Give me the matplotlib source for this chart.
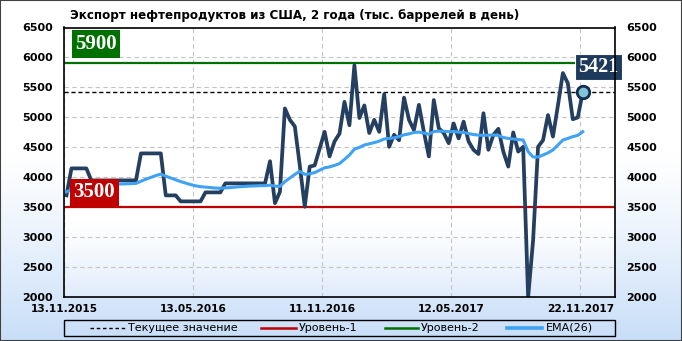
import numpy as np
import matplotlib
matplotlib.use("Agg")
import matplotlib.pyplot as plt
from matplotlib.lines import Line2D
from matplotlib.patches import Rectangle
from matplotlib.transforms import blended_transform_factory

# ---------------- data ----------------
title = "Экспорт нефтепродуктов из США, 2 года (тыс. баррелей в день)"

export_values = [
    3700, 4150, 4150, 4150, 4150, 3950, 3950, 3950, 3950, 3950,
    3950, 3950, 3950, 3950, 3950, 4400, 4400, 4400, 4400, 4400,
    3700, 3700, 3700, 3600, 3600, 3600, 3600, 3600, 3750, 3750,
    3750, 3750, 3900, 3900, 3900, 3900, 3900, 3900, 3900, 3900,
    3900, 4270, 3570, 3760, 5150, 4960, 4850, 4200, 3510, 4180,
    4200, 4480, 4760, 4350, 4600, 4730, 5260, 4870, 5870, 4990,
    5200, 4740, 4960, 4760, 5390, 4510, 4710, 4620, 5330, 4960,
    4790, 5210, 4760, 4350, 5290, 4820, 4740, 4570, 4900, 4650,
    4930, 4600, 4460, 4390, 5070, 4460, 4710, 4810, 4430, 4180,
    4750, 4430, 4510, 2000, 2950, 4510, 4620, 5040, 4680, 5200,
    5740, 5570, 4970, 5000, 5421,
]

ema_values = [
    3760, 3790, 3820, 3845, 3865, 3870, 3875, 3880, 3880, 3885,
    3888, 3890, 3893, 3896, 3900, 3935, 3970, 4000, 4030, 4056,
    4020, 3990, 3960, 3930, 3905, 3880, 3860, 3845, 3838, 3830,
    3822, 3818, 3825, 3830, 3838, 3845, 3850, 3855, 3858, 3862,
    3862, 3870, 3855, 3850, 3930, 3990, 4050, 4100, 4051, 4060,
    4080, 4120, 4160, 4175, 4200, 4230, 4300, 4373, 4470, 4500,
    4540, 4560, 4580, 4605, 4640, 4650, 4660, 4680, 4710, 4725,
    4750, 4755, 4740, 4720, 4765, 4770, 4770, 4762, 4765, 4755,
    4750, 4730, 4715, 4705, 4700, 4705, 4707, 4700, 4665, 4650,
    4640, 4630, 4623, 4430, 4340, 4340, 4373, 4410, 4457, 4540,
    4623, 4650, 4680, 4700, 4762,
]

tick_labels = ["13.11.2015", "13.05.2016", "11.11.2016", "12.05.2017", "22.11.2017"]
tick_index = [0, 26, 52, 78, 104]
level_1 = 3500
level_2 = 5900
current_value = 5421
y_ticks = [2000, 2500, 3000, 3500, 4000, 4500, 5000, 5500, 6000, 6500]
legend_labels = ["Текущее значение", "Уровень-1", "Уровень-2", "EMA(26)"]

# ---------------- style ----------------
W, H = 682, 341
NAVY = "#253f60"
EMA_C = "#3fa2f5"
RED = "#c00000"
GREEN = "#007000"
FONT = "DejaVu Sans"
SERIF = "Liberation Serif"

fig = plt.figure(figsize=(W / 100, H / 100), dpi=100)

def fx(px):
    return px / W

def fy(py):
    return 1 - py / H

def vgrad(nrows, start, power, bottom_rgb):
    t = np.linspace(0, 1, nrows)[:, None]
    f = np.clip((t - start) / (1 - start), 0, 1) ** power
    top = np.array([1.0, 1.0, 1.0])
    bot = np.array(bottom_rgb) / 255
    img = top[None, None, :] * (1 - f[..., None]) + bot[None, None, :] * f[..., None]
    return np.repeat(img, 4, axis=1)

L, R, T, B = 64, 615, 27.5, 297.3

# background: figure gradient + plot-area gradient, drawn in figure coords
bg = fig.add_axes([0, 0, 1, 1], zorder=-10)
bg.axis("off")
bg.imshow(vgrad(341, 0.45, 1.2, (200, 222, 248)), aspect="auto",
          extent=(0, 1, 0, 1), interpolation="bilinear")
bg.imshow(vgrad(270, 0.72, 1.2, (224, 236, 251)), aspect="auto",
          extent=(fx(L), fx(R), fy(B), fy(T)), interpolation="bilinear")
bg.set_xlim(0, 1)
bg.set_ylim(0, 1)

# main axes
ax = fig.add_axes([fx(L), fy(B), fx(R) - fx(L), (B - T) / H])
ax.patch.set_alpha(0)

n = len(export_values)
x = np.arange(n) + 0.5

ax.set_xlim(0, 111)
ax.set_ylim(2000, 6500)
ax.set_yticks(y_ticks)
ax.set_yticklabels([str(v) for v in y_ticks])
ax.set_xticks(tick_index)
ax.set_xticklabels(tick_labels)
ax.grid(True, color="#c4c4c4", linestyle=(0, (4, 3)), linewidth=0.8, zorder=1)
ax.tick_params(axis="both", length=0, labelsize=8)
ax.tick_params(axis="y", pad=8, labelright=True, labelleft=True)
ax.tick_params(axis="x", pad=5)
for lab in ax.get_xticklabels() + ax.get_yticklabels():
    lab.set_fontweight("bold")
    lab.set_fontfamily(FONT)
for lab in ax.get_xticklabels():
    lab.set_fontsize(7.6)
for sp in ax.spines.values():
    sp.set_color("black")
    sp.set_linewidth(1.2)
    sp.set_zorder(10)

# levels
ax.axhline(current_value, color="black", linestyle=(0, (3, 2)), linewidth=1.0, zorder=2)
ax.axhline(level_1, color=RED, linewidth=1.6, zorder=2)
ax.axhline(level_2, color=GREEN, linewidth=1.6, zorder=2)

# series
ax.plot(x, export_values, color=NAVY, linewidth=2.7, zorder=4, solid_joinstyle="round")
ax.plot(x, ema_values, color=EMA_C, linewidth=2.2, zorder=5, solid_joinstyle="round")
ax.plot(x[-1], export_values[-1], "o", ms=9, mfc="#7ec4d6", mec="#122c52", mew=2, zorder=6)

# level label boxes
yb = blended_transform_factory(ax.transAxes, ax.transData)
ax.annotate(str(level_2), xy=(0, level_2), xycoords=yb, xytext=(8, 6.8),
            textcoords="offset points", ha="left", va="bottom",
            fontsize=15, fontweight="bold", family=SERIF, color="white",
            bbox=dict(boxstyle="square,pad=0.17", fc=GREEN, ec="none"), zorder=8)
ax.annotate(str(level_1), xy=(0, level_1), xycoords=yb, xytext=(6.8, 3.6),
            textcoords="offset points", ha="left", va="bottom",
            fontsize=15, fontweight="bold", family=SERIF, color="white",
            bbox=dict(boxstyle="square,pad=0.17", fc=RED, ec="none"), zorder=8)
ax.annotate(str(current_value), xy=(x[-1], current_value), xytext=(-3.2, 11),
            textcoords="offset points", ha="left", va="bottom",
            fontsize=14.5, fontweight="bold", family=SERIF, color="white",
            bbox=dict(boxstyle="square,pad=0.16", fc="#1d3a5c", ec="white", lw=0.8),
            zorder=8, annotation_clip=False)

# title
fig.text(fx(70), fy(15), title, ha="left", va="center", fontsize=8.6,
         fontweight="bold", family=FONT, color="black")

# legend (manual)
fig.patches.append(Rectangle((fx(64), fy(336)), fx(615) - fx(64), (336 - 320) / H,
                             transform=fig.transFigure, fill=False, ec="black", lw=1.0))
ly = fy(328)
legend_items = [
    (90, 125, 128, dict(color="black", linestyle=(0, (2.5, 2)), linewidth=1.0)),
    (261, 296, 299, dict(color=RED, linewidth=1.8)),
    (385, 418, 421, dict(color=GREEN, linewidth=1.8)),
    (507, 542, 546, dict(color=EMA_C, linewidth=2.6)),
]
for (x0, x1, xt, st), lab in zip(legend_items, legend_labels):
    fig.lines.append(Line2D([fx(x0), fx(x1)], [ly, ly], transform=fig.transFigure, **st))
    fig.text(fx(xt), ly, lab, ha="left", va="center", fontsize=8, family=FONT, color="black")

# outer border
fig.patches.append(Rectangle((0, 0), 1, 1, transform=fig.transFigure, fill=False,
                             ec="#404040", lw=1.5))

fig.savefig("out.png", dpi=100)
